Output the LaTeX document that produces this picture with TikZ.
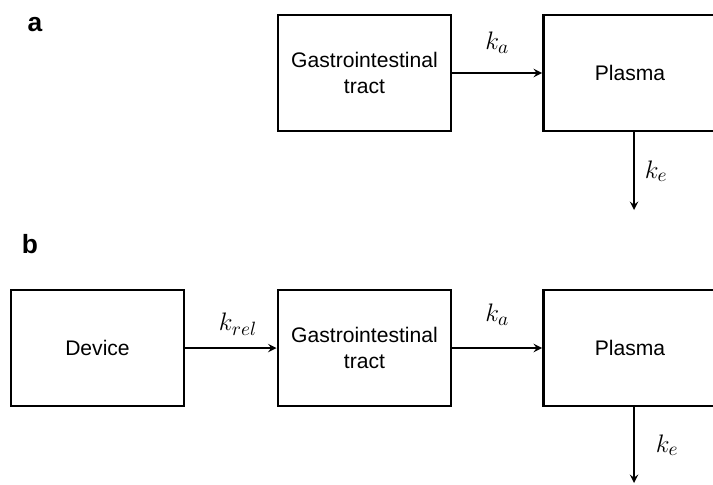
\documentclass[tikz,border=0pt]{standalone}
\usepackage{fontspec}
\setmainfont{Liberation Sans}
\usetikzlibrary{positioning}
\tikzset{
	box/.style={draw, line width=1.7pt, minimum width=3.46cm, minimum height=2.32cm, align=center, font=\fontsize{12}{14.5}\selectfont},
	arrow/.style={line width=1.1pt, ->, >=stealth},
	rate/.style={font=\fontsize{15}{18}\selectfont},
	panel/.style={font=\fontsize{15}{18}\selectfont\bfseries},
}

\begin{document}
\begin{tikzpicture}
		\clip (0,0) rectangle (14.26,-9.7);

		% a: oral dose
		\node[panel] (a) at (0.7,-0.5) {a};
		\node[box] (GIa) at (7.29,-1.46) {Gastrointestinal\\tract};
		\node[box] (Pa) at (12.6,-1.46) {Plasma};
		\coordinate (outa) at (12.68,-4.2);

		\draw[arrow] (GIa) -- node[rate, midway, above=0.26cm] {$k_a$} (Pa);
		\draw[arrow] (Pa.south -| outa) -- node[rate, midway, right=0.08cm] {$k_e$} (outa);

		% b: with device
		\node[panel] (b) at (0.6,-4.89) {b};
		\node[box] (Dev) at (1.95,-6.96) {Device};
		\node[box] (GIb) at (7.29,-6.96) {Gastrointestinal\\tract};
		\node[box] (Pb) at (12.6,-6.96) {Plasma};
		\coordinate (outb) at (12.68,-9.66);

		\draw[arrow] (Dev) -- node[rate, midway, above=0.12cm, xshift=0.14cm] {$k_{rel}$} (GIb);
		\draw[arrow] (GIb) -- node[rate, midway, above=0.32cm] {$k_a$} (Pb);
		\draw[arrow] (Pb.south -| outb) -- node[rate, midway, right=0.3cm] {$k_e$} (outb);
	\end{tikzpicture}
\end{document}
